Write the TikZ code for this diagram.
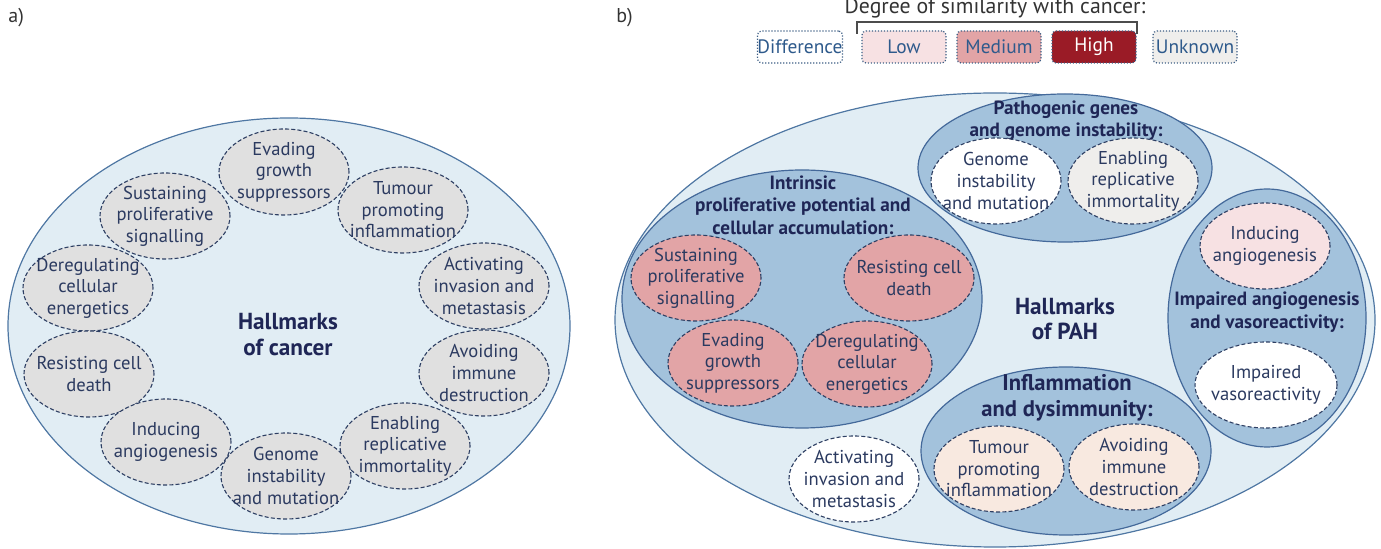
\documentclass[tikz,border=0pt]{standalone}
\usepackage{fontspec}
\setmainfont{PT Sans}
\usetikzlibrary{shapes.geometric}
\definecolor{bgfill}{HTML}{E1EDF4}
\definecolor{bgline}{HTML}{4F77A3}
\definecolor{grpfill}{HTML}{A3C2DC}
\definecolor{grpline}{HTML}{44699A}
\definecolor{dashc}{HTML}{2E3F63}
\definecolor{txt}{HTML}{2B3A60}
\definecolor{ttl}{HTML}{1F2656}
\definecolor{legtxt}{HTML}{2E5A8C}
\definecolor{legline}{HTML}{3E5F85}
\definecolor{grayfill}{HTML}{E0E0E0}
\definecolor{lowfill}{HTML}{F7E1E3}
\definecolor{medfill}{HTML}{E2A4A6}
\definecolor{highfill}{HTML}{9A1B26}
\definecolor{unkfill}{HTML}{EFEEEC}
\definecolor{peach}{HTML}{F8E9E0}
\newcommand{\hmfont}{\fontsize{9.3}{10.8}\selectfont}
\tikzset{
  hm/.style={ellipse, draw=dashc, dash pattern=on 2pt off 1.1pt, line width=0.55pt,
    minimum width=65pt, minimum height=43pt, inner sep=-8pt, align=center,
    text=txt, font=\hmfont},
  big/.style={ellipse, fill=bgfill, draw=bgline, line width=0.6pt, inner sep=0pt},
  grp/.style={ellipse, fill=grpfill, inner sep=0pt},
  grpo/.style={ellipse, draw=grpline, line width=0.6pt, inner sep=0pt},
  ttlnode/.style={align=center, text=ttl, font=\bfseries\fontsize{9.6}{11.2}\selectfont, inner sep=0pt},
  legbox/.style={rectangle, rounded corners=2pt, draw=legline, dash pattern=on 0.6pt off 0.9pt,
    line width=0.6pt, minimum width=42pt, minimum height=16pt, inner sep=0pt,
    text=legtxt, font=\fontsize{9.7}{11}\selectfont},
}
\begin{document}
\begin{tikzpicture}[x=0.5pt,y=-0.5pt]
\useasboundingbox (0,0) rectangle (1381,549);
% ---------- a)
\node[anchor=west, text=black!80, font=\fontsize{10}{11}\selectfont, inner sep=0pt] (la) at (8,18) {a)};
\node[big, minimum width=281pt, minimum height=208pt] (bigA) at (289,326) {};
\node[hm, fill=grayfill] (a1) at (284,172) {Evading\\growth\\suppressors};
\node[hm, fill=grayfill] (a2) at (165,216) {Sustaining\\proliferative\\signalling};
\node[hm, fill=grayfill] (a3) at (403,210) {Tumour\\promoting\\inflammation};
\node[hm, fill=grayfill] (a4) at (88,288) {Deregulating\\cellular\\energetics};
\node[hm, fill=grayfill] (a5) at (484,286) {Activating\\invasion and\\metastasis};
\node[hm, fill=grayfill] (a6) at (89,374) {Resisting cell\\death};
\node[hm, fill=grayfill] (a7) at (484,373) {Avoiding\\immune\\destruction};
\node[hm, fill=grayfill] (a8) at (166,442) {Inducing\\angiogenesis};
\node[hm, fill=grayfill] (a9) at (405,446) {Enabling\\replicative\\immortality};
\node[hm, fill=grayfill] (a10) at (286,476) {Genome\\instability\\and mutation};
\node[ttlnode, font=\bfseries\fontsize{11.6}{13}\selectfont] (hA) at (288,335) {Hallmarks\\of cancer};
% ---------- b)
\node[anchor=west, text=black!80, font=\fontsize{10}{11}\selectfont, inner sep=0pt] (lb) at (616,18) {b)};
\node[text=black!80, font=\fontsize{10.9}{12}\selectfont, inner sep=0pt] (legT) at (995,8) {Degree of similarity with cancer:};
\coordinate (bkL) at (857,34);
\coordinate (bkR) at (1137,34);
\draw[black!70, line width=0.6pt] (bkL) -- ++(0,-12) -| (bkR);
\node[legbox, fill=white] (lg1) at (800,47) {Difference};
\node[legbox, fill=lowfill] (lg2) at (904,47) {Low};
\node[legbox, fill=medfill] (lg3) at (999,47) {Medium};
\node[legbox, fill=highfill, text=white] (lg4) at (1094,47) {High};
\node[legbox, fill=unkfill] (lg5) at (1195,47) {Unknown};
\node[big, minimum width=380pt, minimum height=227pt] (bigB) at (995,320) {};
% group fills
\node[grp, minimum width=147pt, minimum height=74pt] (gGen) at (1065,168) {};
\node[grp, minimum width=180pt, minimum height=129pt] (gInt) at (802,299) {};
\node[grp, minimum width=99pt, minimum height=129pt] (gAng) at (1267,318) {};
\node[grp, minimum width=145pt, minimum height=84pt] (gInf) at (1066,451) {};
% group outlines
\node[grpo, minimum width=147pt, minimum height=74pt] (gGenO) at (gGen) {};
\node[grpo, minimum width=180pt, minimum height=129pt] (gIntO) at (gInt) {};
\node[grpo, minimum width=99pt, minimum height=129pt] (gAngO) at (gAng) {};
\node[grpo, minimum width=145pt, minimum height=84pt] (gInfO) at (gInf) {};
% titles
\node[ttlnode] (tGen) at (1066,121) {Pathogenic genes\\and genome instability:};
\node[ttlnode] (tInt) at (803,205) {Intrinsic\\proliferative potential and\\cellular accumulation:};
\node[ttlnode] (tAng) at (1267,312) {Impaired angiogenesis\\and vasoreactivity:};
\node[ttlnode, font=\bfseries\fontsize{11.3}{13}\selectfont] (tInf) at (1067,398) {Inflammation\\and dysimmunity:};
\node[ttlnode, font=\bfseries\fontsize{11.6}{12.5}\selectfont] (hB) at (1065,319) {Hallmarks\\of PAH};
% children
\node[hm, fill=white] (b1) at (996,181) {Genome\\instability\\and mutation};
\node[hm, fill=unkfill] (b2) at (1133,181) {Enabling\\replicative\\immortality};
\node[hm, fill=medfill] (b3) at (696,278) {Sustaining\\proliferative\\signalling};
\node[hm, fill=medfill] (b4) at (909,278) {Resisting cell\\death};
\node[hm, fill=medfill] (b5) at (733,363) {Evading\\growth\\suppressors};
\node[hm, fill=medfill] (b6) at (867,364) {Deregulating\\cellular\\energetics};
\node[hm, fill=lowfill] (b7) at (1265,246) {Inducing\\angiogenesis};
\node[hm, fill=white, minimum width=71pt] (b8) at (1266,385) {Impaired\\vasoreactivity};
\node[hm, fill=peach] (b9) at (999,469) {Tumour\\promoting\\inflammation};
\node[hm, fill=peach] (b10) at (1134,467) {Avoiding\\immune\\destruction};
\node[hm, fill=white] (b11) at (854,479) {Activating\\invasion and\\metastasis};
\end{tikzpicture}
\end{document}
